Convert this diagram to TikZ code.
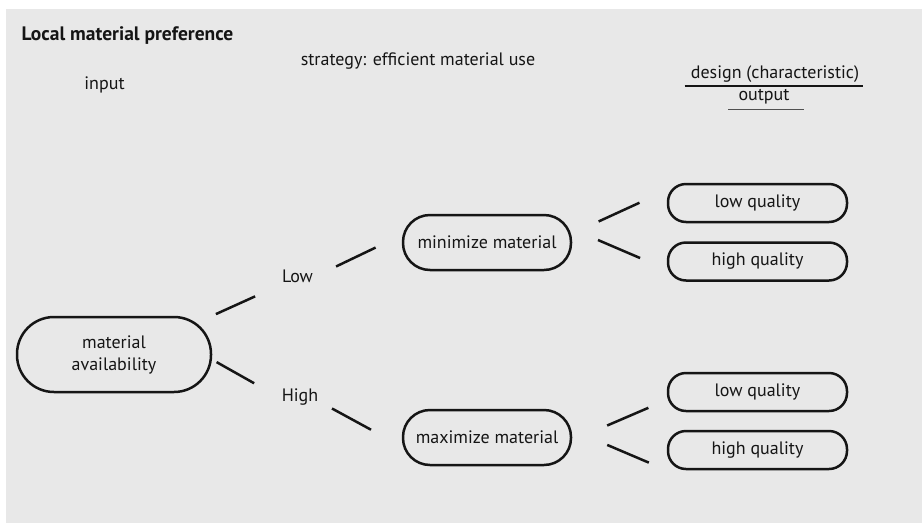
\documentclass[tikz,border=0pt]{standalone}
\usepackage{fontspec}
\setmainfont{PT Sans}
\usetikzlibrary{positioning}
\definecolor{panel}{HTML}{E8E8E8}
\definecolor{ink}{HTML}{151515}

\begin{document}
\begin{tikzpicture}[x=1pt,y=-1pt,line width=2.5pt,text=ink,
    font=\fontsize{18}{22}\selectfont]
  \tikzstyle{choice}=[draw=ink,rectangle,align=center]
  \tikzstyle{big}=[choice,rounded corners=37pt,minimum width=194pt,minimum height=75pt]
  \tikzstyle{mid}=[choice,rounded corners=27pt,minimum width=168pt,minimum height=55pt]
  \tikzstyle{small}=[choice,rounded corners=18pt,minimum width=179pt,minimum height=38pt]
  \tikzstyle{level}=[inner sep=2pt]
  \tikzstyle{link}=[draw=ink,line width=2.5pt]
  \tikzstyle{rule}=[draw=ink,line width=1.5pt]
  \useasboundingbox (0,0) rectangle (922,523);
  \fill[panel] (6,9) rectangle (922,523);

  % headings
  \node[anchor=base west,font=\fontsize{19.5}{22}\selectfont\bfseries] (title) at (17,40) {Local material preference};
  \node[anchor=base] (input) at (104.5,89) {input};
  \node[anchor=base] (strategy) at (418,65) {strategy: efficient material use};
  \node[anchor=base,level] (design) at (775,78) {design (characteristic)};
  \node[anchor=base,level] (output) at (764,100.5) {output};
  \draw[rule] ([xshift=-3pt,yshift=-1pt]design.south west) -- ([xshift=1pt,yshift=-1pt]design.south east);
  \draw[rule,draw=ink!75] ([xshift=-7pt,yshift=-2pt]output.south west) -- ([xshift=11pt,yshift=-2pt]output.south east);

  % tree
  \node[big] (avail) at (114,354.5) {material\\availability};
  \node[level] (low) at (297.5,276) {Low};
  \node[level] (high) at (300,397) {High};
  \node[mid] (minimize) at (487,242.5) {minimize material};
  \node[mid] (maximize) at (487,437.5) {maximize material};
  \node[small] (lq1) at (757.5,203) {low quality};
  \node[small] (hq1) at (757.5,261.5) {high quality};
  \node[small] (lq2) at (757.5,392) {low quality};
  \node[small] (hq2) at (757.5,450) {high quality};

  \path[link]
  (avail.north east) edge[shorten <=4pt,shorten >=26pt] (low.south west)
  (avail.-3) edge[shorten <=5pt,shorten >=28pt] (high.west)
  (low.east) edge[shorten <=22pt,shorten >=29pt] (minimize.175)
  (high.-15) edge[shorten <=12pt,shorten >=35pt] (maximize.186)
  (minimize.6) edge[shorten <=29pt,shorten >=30pt] (lq1.172)
  (minimize.9) edge[shorten <=28pt,shorten >=29pt] (hq1.185)
  (maximize.-2) edge[shorten <=38pt,shorten >=20pt] (lq2.185)
  (maximize.5) edge[shorten <=38pt,shorten >=19.5pt] (hq2.south west)
  ;
\end{tikzpicture}
\end{document}
